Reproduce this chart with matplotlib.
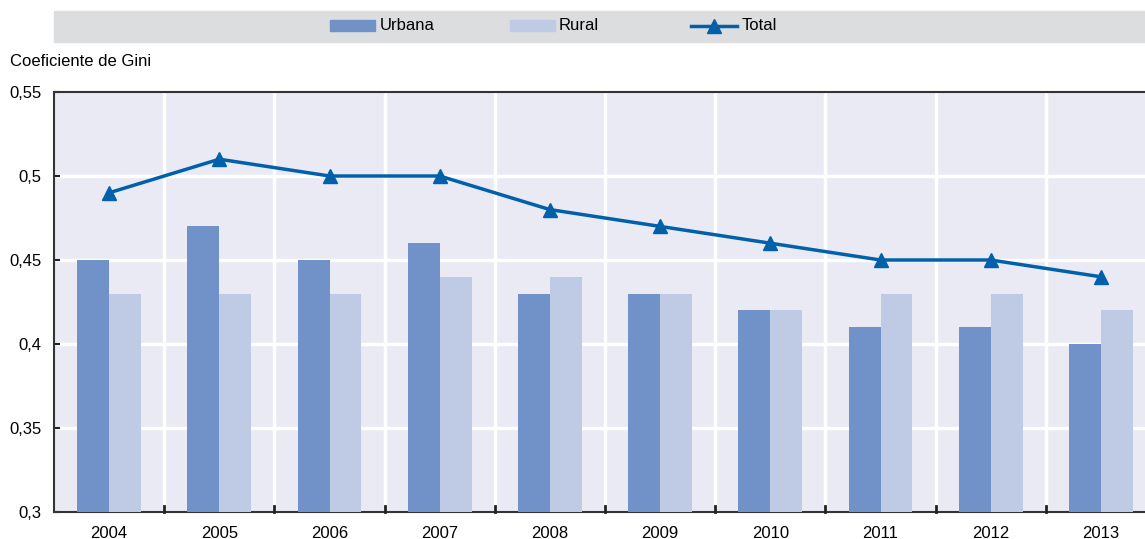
import matplotlib
matplotlib.use("Agg")
import matplotlib.pyplot as plt
import numpy as np
from matplotlib.patches import Rectangle
from matplotlib.lines import Line2D

years = ["2004", "2005", "2006", "2007", "2008", "2009", "2010", "2011", "2012", "2013"]
urbana = [0.45, 0.47, 0.45, 0.46, 0.43, 0.43, 0.42, 0.41, 0.41, 0.40]
rural = [0.43, 0.43, 0.43, 0.44, 0.44, 0.43, 0.42, 0.43, 0.43, 0.42]
total = [0.49, 0.51, 0.50, 0.50, 0.48, 0.47, 0.46, 0.45, 0.45, 0.44]
yticks = [0.3, 0.35, 0.4, 0.45, 0.5, 0.55]
ytick_labels = ["0,3", "0,35", "0,4", "0,45", "0,5", "0,55"]

c_urb = "#7092c8"
c_rur = "#bfcae5"
c_tot = "#0060aa"

plt.rcParams['font.family'] = ['Liberation Sans', 'DejaVu Sans']
FS = 12

W, H = 1145, 539
fig = plt.figure(figsize=(W / 100, H / 100), dpi=100)
ax = fig.add_axes([54 / W, 1 - 512 / H, 1102 / W, (512 - 92) / H])
ax.set_facecolor("#eaeaf4")

x = np.arange(len(years))
bw = 0.29
ax.bar(x - bw / 2, np.array(urbana) - 0.3, bw, bottom=0.3, color=c_urb, zorder=3)
ax.bar(x + bw / 2, np.array(rural) - 0.3, bw, bottom=0.3, color=c_rur, zorder=3)
ax.plot(x, total, color=c_tot, lw=2.5, marker="^", ms=10, zorder=4)

ax.set_xlim(-0.5, len(years) - 0.5)
ax.set_ylim(0.3, 0.55)
ax.set_yticks(yticks)
ax.set_yticklabels(ytick_labels, fontsize=FS)
ax.set_xticks(x)
ax.set_xticklabels(years, fontsize=FS)
ax.tick_params(axis="x", length=0, pad=10)
ax.tick_params(axis="y", length=4, width=1.5, direction="in", pad=9, color="#222222")
for b in np.arange(0.5, len(years) - 0.5, 1):
    ax.axvline(b, color="white", lw=2.5, zorder=1)
    ax.plot([b, b], [0.3, 0.3 + 0.25 * 6 / 420], color="#222222", lw=2, zorder=5, clip_on=False)
for yv in yticks[1:-1]:
    ax.axhline(yv, color="white", lw=2.5, zorder=1)

ax.spines["right"].set_visible(False)
for s in ["left", "bottom", "top"]:
    ax.spines[s].set_color("#333333")
    ax.spines[s].set_linewidth(1.5)

fig.text(10 / W, 1 - 61 / H, "Coeficiente de Gini", fontsize=FS, va="center", ha="left")

# legend band
fig.patches.append(Rectangle((54 / W, 1 - 42 / H), (1145 - 54) / W, 31 / H,
                             transform=fig.transFigure, color="#dcdddf", zorder=0))
ly = 1 - 26 / H
fig.patches.append(Rectangle((330 / W, 1 - 31 / H), 45 / W, 11 / H, transform=fig.transFigure, color=c_urb))
fig.text(380 / W, ly, "Urbana", fontsize=FS, va="center")
fig.patches.append(Rectangle((510 / W, 1 - 31 / H), 45 / W, 11 / H, transform=fig.transFigure, color=c_rur))
fig.text(559 / W, ly, "Rural", fontsize=FS, va="center")
fig.lines.append(Line2D([691 / W, 737 / W], [ly, ly], transform=fig.transFigure, color=c_tot, lw=2.5))
fig.lines.append(Line2D([714 / W], [ly], transform=fig.transFigure, color=c_tot, marker="^", ms=10))
fig.text(742 / W, ly, "Total", fontsize=FS, va="center")

fig.savefig("out.png", dpi=100)
